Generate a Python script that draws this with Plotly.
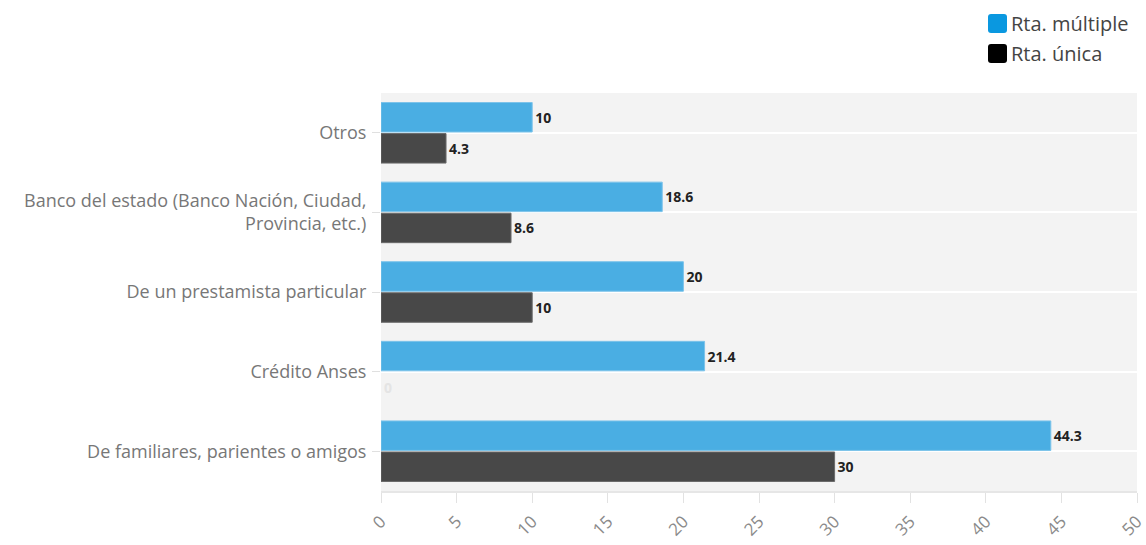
import plotly.graph_objects as go

# Categories listed top to bottom
categorias = [
    "Otros",
    "Banco del estado (Banco Nación, Ciudad,<br>Provincia, etc.)",
    "De un prestamista particular",
    "Crédito Anses",
    "De familiares, parientes o amigos",
]
rta_multiple = [10, 18.6, 20, 21.4, 44.3]
rta_unica = [4.3, 8.6, 10, 0, 30]
ticks_x = [0, 5, 10, 15, 20, 25, 30, 35, 40, 45, 50]

series_leyenda = ["Rta. múltiple", "Rta. única"]
colores_leyenda = ["#0a98e0", "#000000"]

FONT = "'Open Sans', 'Noto Sans', sans-serif"
AZUL = "#4aaee3"
GRIS = "#484848"

W, H = 1146, 545
ML, MR, MT, MB = 381, 9, 93, 54
PW, PH = W - ML - MR, H - MT - MB


def px(x):
    return (x - ML) / PW


def py(y):
    return 1 - (y - MT) / PH


def etiqueta(v):
    return f"<b>{v:g}</b>"


fig = go.Figure()

fig.add_trace(go.Bar(
    y=categorias, x=rta_multiple, orientation="h", name=series_leyenda[0],
    marker=dict(color=AZUL, line=dict(color="#7cc3ea",
                                      width=[1 if v else 0 for v in rta_multiple])),
    text=[etiqueta(v) for v in rta_multiple], textposition="outside",
    textfont=dict(family=FONT, size=14, color="#222222"),
    cliponaxis=False, showlegend=False,
))
fig.add_trace(go.Bar(
    y=categorias, x=rta_unica, orientation="h", name=series_leyenda[1],
    marker=dict(color=GRIS, line=dict(color="#6a6a6a",
                                      width=[1 if v else 0 for v in rta_unica])),
    text=[etiqueta(v) for v in rta_unica], textposition="outside",
    textfont=dict(family=FONT, size=14,
                  color=["#222222" if v else "#e4e4e4" for v in rta_unica]),
    cliponaxis=False, showlegend=False,
))

# Legend drawn as rounded swatches with labels in the top-right corner
for i, (nombre, color) in enumerate(zip(series_leyenda, colores_leyenda)):
    x0, x1 = 988, 1007
    y0 = 14 + i * 30
    y1 = y0 + 19
    r = 3
    path = (
        f"M {px(x0 + r)},{py(y0)} L {px(x1 - r)},{py(y0)} "
        f"Q {px(x1)},{py(y0)} {px(x1)},{py(y0 + r)} "
        f"L {px(x1)},{py(y1 - r)} Q {px(x1)},{py(y1)} {px(x1 - r)},{py(y1)} "
        f"L {px(x0 + r)},{py(y1)} Q {px(x0)},{py(y1)} {px(x0)},{py(y1 - r)} "
        f"L {px(x0)},{py(y0 + r)} Q {px(x0)},{py(y0)} {px(x0 + r)},{py(y0)} Z"
    )
    fig.add_shape(type="path", path=path, xref="paper", yref="paper",
                  fillcolor=color, line=dict(width=0))
    fig.add_annotation(
        text=nombre, xref="paper", yref="paper",
        x=px(1009), y=py((y0 + y1) / 2), xanchor="left", yanchor="middle",
        showarrow=False, font=dict(family=FONT, size=20, color="#444444"),
    )

fig.update_layout(
    width=W, height=H,
    margin=dict(l=ML, r=MR, t=MT, b=MB, autoexpand=False),
    paper_bgcolor="white",
    plot_bgcolor="#f3f3f3",
    barmode="group",
    bargap=0.22,
    bargroupgap=0.05,
    showlegend=False,
    font=dict(family=FONT, color="#777777"),
    xaxis=dict(
        range=[0, 50], tickvals=ticks_x, ticktext=[str(t) for t in ticks_x],
        tickangle=-45, showgrid=False, zeroline=False,
        ticks="outside", ticklen=10, tickcolor="#e2e2e2",
        tickfont=dict(family=FONT, size=17, color="#8a8a8a"),
        ticklabelstandoff=2, ticklabeloverflow="allow",
        showline=True, linecolor="#e6e6e6", linewidth=2, automargin=False,
    ),
    yaxis=dict(
        autorange="reversed", showgrid=True, gridcolor="#ffffff", gridwidth=2,
        ticks="outside", ticklen=8, tickcolor="#e0e0e0",
        tickfont=dict(family=FONT, size=18, color="#777777"),
        ticklabelstandoff=2,
        zeroline=False, showline=False, automargin=False,
    ),
)

fig.write_html("out.html")
